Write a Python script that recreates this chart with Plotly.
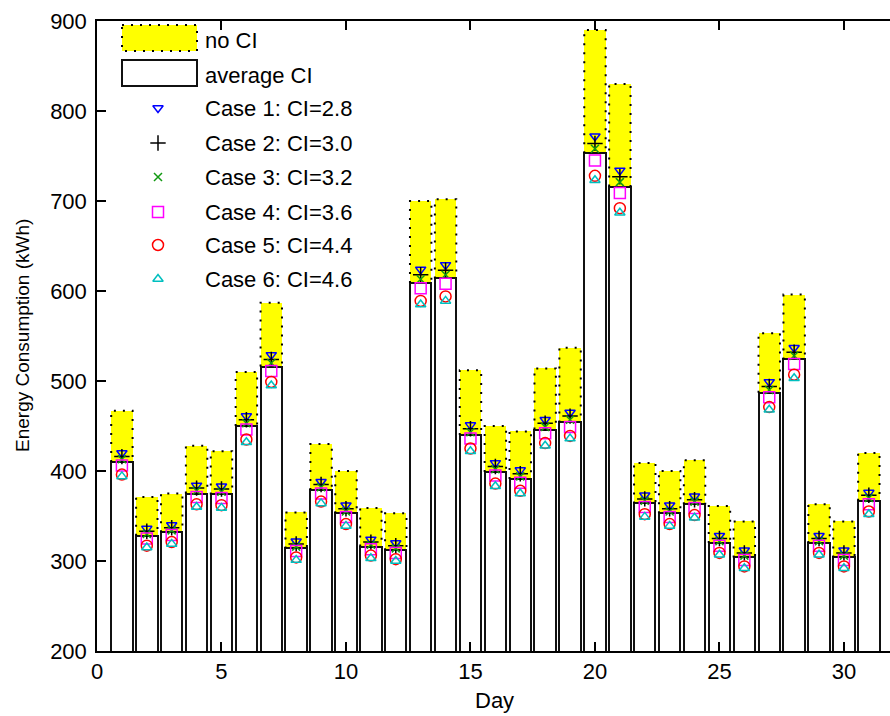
import plotly.graph_objects as go

days = list(range(1, 32))
no_ci = [467, 371, 375, 428, 422, 510, 587, 354, 430, 400, 359, 353, 700, 702, 512,
         450, 444, 514, 537, 890, 830, 409, 400, 412, 361, 344, 553, 596, 363, 344, 420]
avg_ci = [410, 328, 332, 375, 374, 450, 516, 314, 379, 353, 316, 312, 609, 614, 440,
          399, 391, 446, 454, 753, 716, 364, 353, 363, 320, 304, 487, 524, 320, 304, 367]
case1 = [420, 336, 340, 384, 383, 461, 529, 322, 388, 362, 324, 320, 624, 629, 451,
         409, 401, 457, 465, 772, 734, 373, 362, 372, 328, 312, 499, 537, 328, 312, 376]
case2 = [416, 333, 337, 381, 380, 457, 524, 319, 385, 358, 321, 317, 618, 623, 447,
         405, 397, 453, 461, 764, 727, 369, 358, 368, 325, 309, 494, 532, 325, 309, 373]
case3 = [413, 330, 334, 378, 377, 453, 520, 316, 382, 355, 318, 314, 613, 618, 443,
         402, 394, 449, 457, 758, 721, 367, 355, 366, 322, 306, 490, 528, 322, 306, 370]
case4 = [406, 325, 329, 371, 370, 446, 511, 311, 375, 349, 313, 309, 603, 608, 436,
         395, 387, 442, 449, 745, 709, 360, 349, 359, 317, 301, 482, 519, 317, 301, 363]
case5 = [396, 317, 321, 363, 362, 435, 499, 304, 366, 341, 306, 302, 589, 594, 425,
         386, 378, 431, 439, 728, 692, 352, 341, 351, 309, 294, 471, 507, 309, 294, 355]
case6 = [394, 315, 319, 360, 359, 432, 495, 301, 364, 339, 303, 300, 585, 589, 422,
         383, 375, 428, 436, 723, 687, 349, 339, 348, 307, 292, 468, 503, 307, 292, 352]

case_names = ["Case 1: CI=2.8", "Case 2: CI=3.0", "Case 3: CI=3.2",
              "Case 4: CI=3.6", "Case 5: CI=4.4", "Case 6: CI=4.6"]
case_data = [case1, case2, case3, case4, case5, case6]
case_symbols = ["triangle-down-open", "cross-thin-open", "x-thin-open",
                "square-open", "circle-open", "triangle-up-open"]
case_colors = ["#0000ff", "#000000", "#119911", "#ff00ff", "#ff0000", "#00bfbf"]
case_sizes = [9, 11, 8, 11, 11, 9]
x_ticks = [0, 5, 10, 15, 20, 25, 30]
y_ticks = [200, 300, 400, 500, 600, 700, 800, 900]

BW = 0.86
FONT = "Liberation Sans, Arial, sans-serif"

fig = go.Figure()

# yellow "no CI" bars
fig.add_trace(go.Bar(x=days, y=no_ci, width=BW, marker=dict(color="#ffff00", line=dict(width=0)),
                     showlegend=False, hoverinfo="skip"))
# white "average CI" bars
fig.add_trace(go.Bar(x=days, y=avg_ci, width=BW,
                     marker=dict(color="white", line=dict(color="#111111", width=2)),
                     showlegend=False, hoverinfo="skip"))
# dotted outline of the visible yellow part
ox, oy = [], []
for d, v, a in zip(days, no_ci, avg_ci):
    ox += [d - BW / 2, d - BW / 2, d + BW / 2, d + BW / 2, None]
    oy += [a, v, v, a, None]
fig.add_trace(go.Scatter(x=ox, y=oy, mode="lines", line=dict(color="black", width=2, dash="2px,7px"),
                         showlegend=False, hoverinfo="skip"))
# case markers
for name, data, sym, col, sz in zip(case_names, case_data, case_symbols, case_colors, case_sizes):
    fig.add_trace(go.Scatter(x=days, y=data, mode="markers", name=name, showlegend=False,
                             marker=dict(symbol=sym, size=sz, color=col,
                                         line=dict(color=col, width=1.5))))

# ----- custom legend drawn in a pixel-like overlay axis -----
LX_MARK = 158
LX_TEXT = 203
row_y = [108, 143, 177, 212, 245, 279]
for name, sym, col, sz, ry in zip(case_names, case_symbols, case_colors, case_sizes, row_y):
    fig.add_trace(go.Scatter(x=[LX_MARK], y=[ry], xaxis="x2", yaxis="y2", mode="markers",
                             showlegend=False, hoverinfo="skip",
                             marker=dict(symbol=sym, size=sz, color=col, line=dict(color=col, width=1.5))))
    fig.add_annotation(x=LX_TEXT, y=ry, xref="x2", yref="y2", text=name, showarrow=False,
                       xanchor="left", yanchor="middle", font=dict(family=FONT, size=22, color="black"))

fig.add_shape(type="rect", xref="x2", yref="y2", x0=122, x1=197, y0=25, y1=51,
              fillcolor="#ffff00", line=dict(color="black", width=2, dash="2px,7px"))
fig.add_shape(type="rect", xref="x2", yref="y2", x0=122, x1=197, y0=60, y1=86,
              fillcolor="white", line=dict(color="#111111", width=2))
fig.add_annotation(x=LX_TEXT, y=40, xref="x2", yref="y2", text="no CI", showarrow=False,
                   xanchor="left", yanchor="middle", font=dict(family=FONT, size=22, color="black"))
fig.add_annotation(x=LX_TEXT, y=75, xref="x2", yref="y2", text="average CI", showarrow=False,
                   xanchor="left", yanchor="middle", font=dict(family=FONT, size=22, color="black"))

# axis titles
fig.add_annotation(x=-75 / 793, y=0.5, xref="paper", yref="paper", text="Energy Consumption (kWh)",
                   showarrow=False, textangle=-90, xanchor="center", yanchor="middle",
                   font=dict(family=FONT, size=19, color="black"))
fig.add_annotation(x=(494 - 97) / 793, y=-49 / 630, xref="paper", yref="paper", text="Day",
                   showarrow=False, xanchor="center", yanchor="middle",
                   font=dict(family=FONT, size=22, color="black"))

fig.update_layout(
    width=890, height=716,
    margin=dict(l=97, r=0, t=21, b=65),
    paper_bgcolor="white", plot_bgcolor="white",
    barmode="overlay", bargap=0,
    font=dict(family=FONT, size=22, color="black"),
    xaxis=dict(range=[0, 31.85], tickvals=x_ticks, ticks="inside", ticklen=9, tickwidth=1.5,
               tickcolor="black", showline=True, linecolor="black", linewidth=1.5,
               mirror="ticks", showgrid=False, zeroline=False,
               tickfont=dict(family=FONT, size=22, color="black")),
    yaxis=dict(range=[200, 900], tickvals=y_ticks, ticks="inside", ticklen=9, tickwidth=1.5,
               tickcolor="black", showline=True, linecolor="black", linewidth=1.5,
               mirror=False, showgrid=False, zeroline=False, ticklabelstandoff=4,
               tickfont=dict(family=FONT, size=22, color="black")),
    xaxis2=dict(overlaying="x", anchor="y2", range=[97, 890], visible=False, fixedrange=True),
    yaxis2=dict(overlaying="y", anchor="x2", range=[651, 21], visible=False, fixedrange=True),
)

fig.write_html("out.html")
